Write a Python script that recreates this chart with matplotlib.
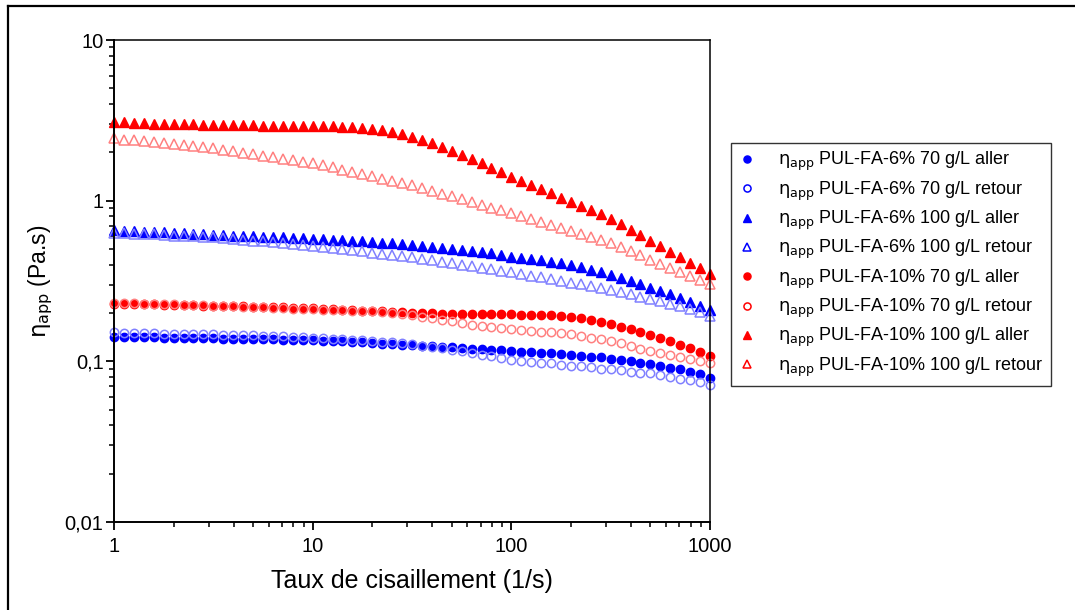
import numpy as np
import matplotlib
matplotlib.use("Agg")
import matplotlib.pyplot as plt
from matplotlib.lines import Line2D
from matplotlib.ticker import FixedLocator, FuncFormatter, LogLocator, NullFormatter

plt.rcParams['font.family'] = ['Liberation Sans', 'DejaVu Sans']
plt.rcParams['mathtext.fontset'] = 'dejavusans'

# Shear rate (1/s): 20 points per decade from 1 to 1000
shear_rate = np.logspace(0, 3, 61)

pul6_70_aller = [
    0.142, 0.142, 0.141, 0.141, 0.141, 0.140, 0.140, 0.140, 0.139, 0.139, 0.139,
    0.138, 0.138, 0.138, 0.137, 0.137, 0.137, 0.136, 0.136, 0.135, 0.135,
    0.134, 0.133, 0.133, 0.132, 0.131, 0.130, 0.129, 0.128, 0.127, 0.126,
    0.125, 0.124, 0.123, 0.122, 0.121, 0.120, 0.119, 0.118, 0.117, 0.116,
    0.115, 0.114, 0.113, 0.112, 0.111, 0.110, 0.108, 0.107, 0.106, 0.104,
    0.102, 0.100, 0.098, 0.096, 0.094, 0.091, 0.089, 0.086, 0.083, 0.079]

pul6_70_retour = [
    0.152, 0.151, 0.151, 0.150, 0.150, 0.149, 0.149, 0.148, 0.148, 0.147, 0.147,
    0.146, 0.146, 0.145, 0.145, 0.144, 0.143, 0.143, 0.142, 0.141, 0.140,
    0.139, 0.138, 0.137, 0.136, 0.135, 0.134, 0.132, 0.131, 0.130, 0.128,
    0.125, 0.123, 0.121, 0.118, 0.116, 0.113, 0.110, 0.108, 0.105, 0.102,
    0.101, 0.099, 0.098, 0.097, 0.095, 0.094, 0.093, 0.092, 0.090, 0.089,
    0.088, 0.086, 0.085, 0.084, 0.082, 0.080, 0.078, 0.076, 0.074, 0.071]

pul10_70_aller = [
    0.228, 0.227, 0.227, 0.226, 0.226, 0.225, 0.224, 0.224, 0.223, 0.222, 0.222,
    0.221, 0.220, 0.220, 0.219, 0.218, 0.217, 0.217, 0.216, 0.215, 0.214,
    0.213, 0.211, 0.210, 0.209, 0.207, 0.206, 0.205, 0.203, 0.202, 0.201,
    0.200, 0.199, 0.198, 0.198, 0.197, 0.197, 0.196, 0.196, 0.196, 0.196,
    0.195, 0.195, 0.194, 0.193, 0.191, 0.188, 0.185, 0.181, 0.176, 0.170,
    0.164, 0.158, 0.152, 0.146, 0.139, 0.133, 0.127, 0.121, 0.114, 0.108]

pul10_70_retour = [
    0.232, 0.231, 0.230, 0.229, 0.228, 0.227, 0.226, 0.225, 0.224, 0.223, 0.222,
    0.221, 0.220, 0.219, 0.218, 0.217, 0.216, 0.215, 0.213, 0.212, 0.211,
    0.210, 0.209, 0.208, 0.207, 0.206, 0.205, 0.203, 0.200, 0.197, 0.193,
    0.189, 0.185, 0.181, 0.177, 0.173, 0.169, 0.166, 0.163, 0.161, 0.159,
    0.157, 0.155, 0.153, 0.152, 0.150, 0.147, 0.144, 0.140, 0.137, 0.134,
    0.130, 0.125, 0.120, 0.116, 0.113, 0.110, 0.106, 0.103, 0.100, 0.097]

pul6_100_aller = [
    0.655, 0.650, 0.646, 0.642, 0.638, 0.634, 0.630, 0.626, 0.622, 0.618, 0.614,
    0.611, 0.607, 0.604, 0.600, 0.597, 0.594, 0.591, 0.588, 0.585, 0.580,
    0.576, 0.571, 0.567, 0.562, 0.558, 0.553, 0.548, 0.543, 0.537, 0.532,
    0.525, 0.518, 0.511, 0.503, 0.495, 0.487, 0.478, 0.469, 0.459, 0.449,
    0.441, 0.434, 0.427, 0.418, 0.408, 0.397, 0.385, 0.372, 0.359, 0.346,
    0.331, 0.316, 0.302, 0.288, 0.275, 0.262, 0.249, 0.235, 0.222, 0.209]

pul6_100_retour = [
    0.632, 0.628, 0.624, 0.620, 0.616, 0.611, 0.607, 0.603, 0.599, 0.594, 0.590,
    0.583, 0.577, 0.570, 0.564, 0.557, 0.551, 0.544, 0.538, 0.531, 0.525,
    0.516, 0.508, 0.499, 0.491, 0.483, 0.475, 0.467, 0.460, 0.452, 0.445,
    0.435, 0.426, 0.416, 0.407, 0.398, 0.390, 0.381, 0.373, 0.365, 0.358,
    0.349, 0.341, 0.333, 0.325, 0.317, 0.309, 0.301, 0.293, 0.285, 0.278,
    0.269, 0.261, 0.252, 0.244, 0.236, 0.228, 0.220, 0.212, 0.202, 0.192]

pul10_100_aller = [
    3.10, 3.08, 3.06, 3.04, 3.02, 3.01, 3.00, 2.99, 2.98, 2.97, 2.96,
    2.95, 2.95, 2.94, 2.94, 2.93, 2.93, 2.93, 2.92, 2.92, 2.92,
    2.91, 2.90, 2.89, 2.87, 2.84, 2.80, 2.74, 2.67, 2.59, 2.50,
    2.39, 2.27, 2.15, 2.05, 1.93, 1.81, 1.71, 1.60, 1.50, 1.41,
    1.327, 1.250, 1.178, 1.109, 1.045, 0.984, 0.927, 0.873, 0.822, 0.774,
    0.715, 0.661, 0.610, 0.564, 0.521, 0.481, 0.444, 0.410, 0.379, 0.350]

pul10_100_retour = [
    2.44, 2.40, 2.37, 2.34, 2.31, 2.28, 2.24, 2.21, 2.18, 2.15, 2.12,
    2.07, 2.03, 1.99, 1.95, 1.90, 1.86, 1.82, 1.79, 1.75, 1.71,
    1.66, 1.61, 1.56, 1.51, 1.46, 1.42, 1.37, 1.33, 1.29, 1.25,
    1.20, 1.153, 1.108, 1.064, 1.022, 0.982, 0.943, 0.906, 0.870, 0.836,
    0.800, 0.767, 0.735, 0.703, 0.674, 0.645, 0.618, 0.592, 0.567, 0.543,
    0.513, 0.483, 0.456, 0.430, 0.406, 0.383, 0.361, 0.340, 0.321, 0.303]

ETA = r'$\mathrm{\eta_{app}}$'
labels = [
    ETA + ' PUL-FA-6% 70 g/L aller',
    ETA + ' PUL-FA-6% 70 g/L retour',
    ETA + ' PUL-FA-6% 100 g/L aller',
    ETA + ' PUL-FA-6% 100 g/L retour',
    ETA + ' PUL-FA-10% 70 g/L aller',
    ETA + ' PUL-FA-10% 70 g/L retour',
    ETA + ' PUL-FA-10% 100 g/L aller',
    ETA + ' PUL-FA-10% 100 g/L retour',
]
series = [pul6_70_aller, pul6_70_retour, pul6_100_aller, pul6_100_retour,
          pul10_70_aller, pul10_70_retour, pul10_100_aller, pul10_100_retour]

BLUE = '#0000ff'
RED = '#ff0000'
LBLUE = '#8080ff'
LRED = '#ff8080'
styles = [
    dict(marker='o', ms=6.0, mfc=BLUE, mec=BLUE),
    dict(marker='o', ms=6.0, mfc='none', mec=LBLUE, mew=1.1),
    dict(marker='^', ms=7.0, mfc=BLUE, mec=BLUE),
    dict(marker='^', ms=7.0, mfc='none', mec=LBLUE, mew=1.1),
    dict(marker='o', ms=6.0, mfc=RED, mec=RED),
    dict(marker='o', ms=6.0, mfc='none', mec=LRED, mew=1.1),
    dict(marker='^', ms=7.0, mfc=RED, mec=RED),
    dict(marker='^', ms=7.0, mfc='none', mec=LRED, mew=1.1),
]
legend_edge = [BLUE, BLUE, BLUE, BLUE, RED, RED, RED, RED]

fig = plt.figure(figsize=(10.75, 6.10), dpi=100)
ax = fig.add_axes([114 / 1075, 1 - 522 / 610, (710 - 114) / 1075, (522 - 40) / 610])

handles = []
for y, lab, st in zip(series, labels, styles):
    h, = ax.plot(shear_rate, y, linestyle='none', label=lab, clip_on=False, **st)
    handles.append(h)

ax.set_xscale('log')
ax.set_yscale('log')
ax.set_xlim(1, 1000)
ax.set_ylim(0.01, 10)

def comma_fmt(v, pos):
    s = ('%g' % v)
    return s.replace('.', ',')

ax.xaxis.set_major_locator(FixedLocator([1, 10, 100, 1000]))
ax.yaxis.set_major_locator(FixedLocator([0.01, 0.1, 1, 10]))
ax.xaxis.set_major_formatter(FuncFormatter(comma_fmt))
ax.yaxis.set_major_formatter(FuncFormatter(comma_fmt))
ax.xaxis.set_minor_locator(LogLocator(base=10, subs=np.arange(2, 10), numticks=20))
ax.yaxis.set_minor_locator(LogLocator(base=10, subs=np.arange(2, 10), numticks=20))
ax.xaxis.set_minor_formatter(NullFormatter())
ax.yaxis.set_minor_formatter(NullFormatter())

ax.tick_params(which='major', direction='out', length=6, width=1.3, labelsize=14.5,
               top=False, right=False)
ax.tick_params(axis='x', which='major', pad=5)
ax.tick_params(axis='y', which='major', pad=1.5)
ax.tick_params(which='minor', direction='out', length=3.5, width=1.1,
               top=False, right=False)
for sp in ['left', 'bottom']:
    ax.spines[sp].set_linewidth(1.4)
for sp in ['top', 'right']:
    ax.spines[sp].set_linewidth(1.1)

ax.set_xlabel('Taux de cisaillement (1/s)', fontsize=18, labelpad=9)
ax.set_ylabel(r'$\mathrm{\eta_{app}}$ (Pa.s)', fontsize=16.5)
ax.yaxis.set_label_coords((55 - 114) / 596, 0.5)

leg = fig.legend(handles=handles, labels=labels, loc='upper left',
                 bbox_to_anchor=(731 / 1075, 1 - 143 / 610),
                 bbox_transform=fig.transFigure, fontsize=13.0,
                 frameon=True, fancybox=False, edgecolor='black',
                 borderaxespad=0, handlelength=1.0, handletextpad=1.2,
                 labelspacing=0.34, borderpad=0.4, markerscale=0.85)
leg.get_frame().set_linewidth(1.0)
for h, c in zip(leg.legend_handles, legend_edge):
    h.set_markeredgecolor(c)

# outer frame (partially cropped in reference)
fig.add_artist(Line2D([8 / 1075, 1.0], [1 - 6 / 610, 1 - 6 / 610],
                      transform=fig.transFigure, color='black', lw=1.6))
fig.add_artist(Line2D([8 / 1075, 8 / 1075], [0.0, 1 - 6 / 610],
                      transform=fig.transFigure, color='black', lw=1.6))

fig.savefig('out.png', dpi=100)
